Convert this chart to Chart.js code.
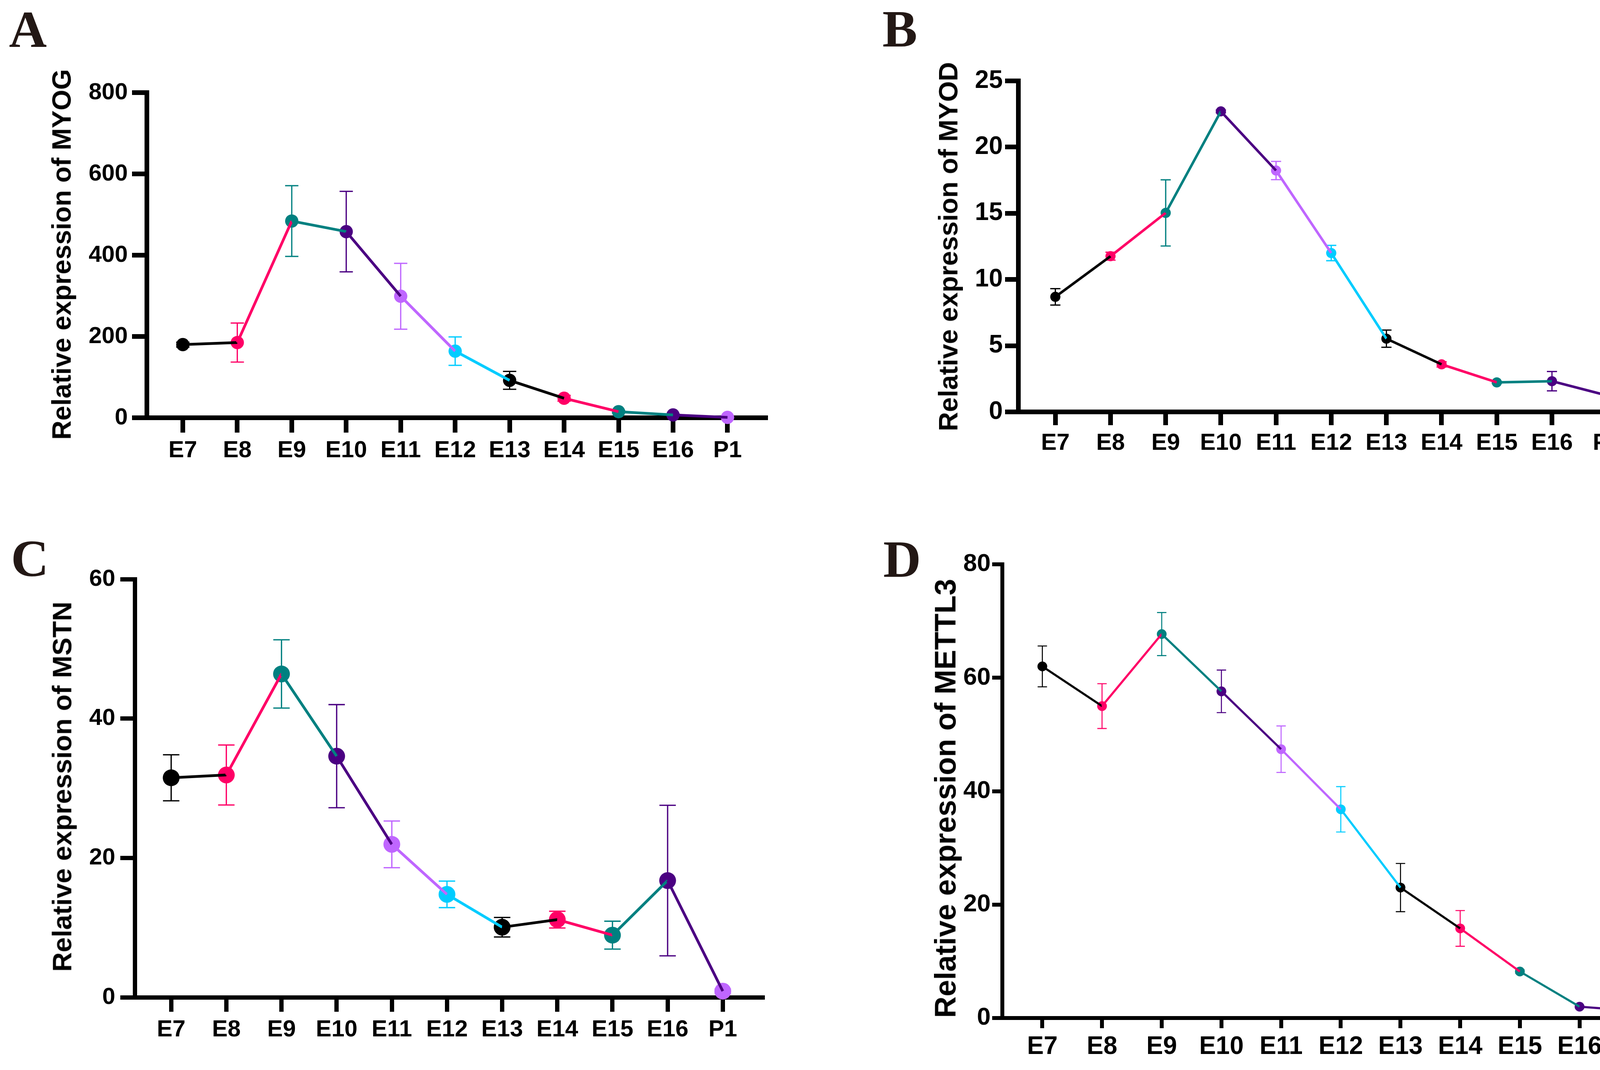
<!DOCTYPE html>
<html>
<head>
<meta charset="utf-8">
<script src="https://cdn.jsdelivr.net/npm/chart.js@4.4.1/dist/chart.umd.min.js"></script>
<style>
html, body { margin: 0; padding: 0; background: #fff; }
#page { position: relative; width: 4329px; height: 2738px; overflow: hidden; background: #fff; }
canvas { position: absolute; }
.tag { position: absolute; font-family: 'Liberation Serif', 'Times New Roman', serif; font-weight: bold;
       font-size: 134px; line-height: 1; color: #231815; }
.ytitle { position: absolute; font-family: 'Liberation Sans', Arial, sans-serif; font-weight: bold;
          line-height: 1; color: #000; white-space: nowrap; transform: translate(-50%, -50%) rotate(-90deg); }
</style>
</head>
<body>
<div id="page"></div>
<script>
// stages on the x axis
var categories = ['E7', 'E8', 'E9', 'E10', 'E11', 'E12', 'E13', 'E14', 'E15', 'E16', 'P1'];

// A - MYOG
var myog = [180, 185, 484, 458, 299, 164, 92, 48, 15, 7, 1];
var myogSd = [6, 48, 87, 99, 81, 35, 22, 7, 3, 2, 1];
var myogTicks = [0, 200, 400, 600, 800];

// B - MYOD
var myod = [8.69, 11.76, 15.03, 22.7, 18.23, 12.0, 5.53, 3.59, 2.23, 2.32, 1.24];
var myodSd = [0.62, 0.3, 2.5, 0.1, 0.69, 0.58, 0.65, 0.2, 0.08, 0.73, 0.62];
var myodTicks = [0, 5, 10, 15, 20, 25];

// C - MSTN
var mstn = [31.5, 31.9, 46.4, 34.6, 21.95, 14.77, 10.06, 11.15, 8.92, 16.75, 0.89];
var mstnSd = [3.3, 4.3, 4.9, 7.4, 3.35, 1.9, 1.4, 1.2, 2.0, 10.8, 0.3];
var mstnTicks = [0, 20, 40, 60];

// D - METTL3
var mettl3 = [62.0, 55.0, 67.7, 57.6, 47.4, 36.8, 23.0, 15.8, 8.2, 2.0, 1.2];
var mettl3Sd = [3.6, 3.95, 3.8, 3.75, 4.1, 4.0, 4.25, 3.15, 0.3, 0.2, 0.2];
var mettl3Ticks = [0, 20, 40, 60, 80];

// one colour per stage, the segment after a point takes that point's colour
var pointColors = ['#000000', '#FF0066', '#008080', '#4B0082', '#BF66FF', '#00CCFF',
                   '#000000', '#FF0066', '#008080', '#4B0082', '#BF66FF'];

var sans = "'Liberation Sans', Arial, sans-serif";

// box = canvas [left, top, w, h], area = plot area [left, top, right, bottom] in page px
var panels = [
  { tag: 'A', tagPos: [23, 8], title: 'Relative expression of MYOG', titleSize: 68, titlePos: [157, 651],
    values: myog, sd: myogSd, ticks: myogTicks,
    box: [0, 0, 2164, 1300], area: [376, 237, 1960, 1069], xmin: -0.66, xmax: 10.70,
    r: 17, lw: 7, ebw: 3.2, cap: 17, aw: 12, tl: 38, yfs: 60, xfs: 60, ypad: 11, xpad: 10 },
  { tag: 'B', tagPos: [2259, 7], title: 'Relative expression of MYOD', titleSize: 68, titlePos: [2427, 631],
    values: myod, sd: myodSd, ticks: myodTicks,
    box: [2164, 0, 2165, 1300], area: [2607, 207, 4216, 1054], xmin: -0.67, xmax: 10.72,
    r: 13, lw: 6.5, ebw: 3.2, cap: 13, aw: 12, tl: 34, yfs: 64, xfs: 60, ypad: 6, xpad: 10 },
  { tag: 'C', tagPos: [28, 1362], title: 'Relative expression of MSTN', titleSize: 69, titlePos: [159, 2013],
    values: mstn, sd: mstnSd, ticks: mstnTicks,
    box: [0, 1300, 2164, 1438], area: [345, 1482, 1952, 2552], xmin: -0.66, xmax: 10.72,
    r: 21.5, lw: 7, ebw: 3.3, cap: 21, aw: 11, tl: 37, yfs: 60, xfs: 60, ypad: 13, xpad: 10 },
  { tag: 'D', tagPos: [2261, 1364], title: 'Relative expression of METTL3', titleSize: 76, titlePos: [2420, 2043],
    values: mettl3, sd: mettl3Sd, ticks: mettl3Ticks,
    box: [2164, 1300, 2165, 1438], area: [2566, 1444, 4305, 2605], xmin: -0.67, xmax: 10.71,
    r: 12.5, lw: 5.5, ebw: 2.6, cap: 12, aw: 10, tl: 26, yfs: 63, xfs: 64, ypad: 4, xpad: 10 }
];

function errorBars(p) {
  return {
    id: 'errorBars' + p.tag,
    beforeDatasetsDraw: function(chart) {
      var ctx = chart.ctx, x = chart.scales.x, y = chart.scales.y;
      ctx.save();
      ctx.lineWidth = p.ebw;
      p.values.forEach(function(v, i) {
        var px = x.getPixelForValue(i);
        var top = y.getPixelForValue(v + p.sd[i]);
        var bot = y.getPixelForValue(v - p.sd[i]);
        ctx.strokeStyle = pointColors[i];
        ctx.beginPath();
        ctx.moveTo(px, top); ctx.lineTo(px, bot);
        ctx.moveTo(px - p.cap, top); ctx.lineTo(px + p.cap, top);
        ctx.moveTo(px - p.cap, bot); ctx.lineTo(px + p.cap, bot);
        ctx.stroke();
      });
      ctx.restore();
    }
  };
}

function axisGrid(p) {
  return { drawOnChartArea: false, drawTicks: true, tickLength: p.tl, tickWidth: p.aw,
           tickColor: '#000', color: '#000', lineWidth: p.aw };
}

function makePanel(p) {
  var page = document.getElementById('page');

  var tag = document.createElement('div');
  tag.className = 'tag';
  tag.textContent = p.tag;
  tag.style.left = p.tagPos[0] + 'px';
  tag.style.top = p.tagPos[1] + 'px';
  page.appendChild(tag);

  var cv = document.createElement('canvas');
  cv.width = p.box[2]; cv.height = p.box[3];
  cv.style.left = p.box[0] + 'px'; cv.style.top = p.box[1] + 'px';
  cv.style.width = p.box[2] + 'px'; cv.style.height = p.box[3] + 'px';
  page.appendChild(cv);

  var title = document.createElement('div');
  title.className = 'ytitle';
  title.textContent = p.title;
  title.style.fontSize = p.titleSize + 'px';
  title.style.left = p.titlePos[0] + 'px';
  title.style.top = p.titlePos[1] + 'px';
  page.appendChild(title);

  var pts = p.values.map(function(v, i) { return { x: i, y: v }; });

  new Chart(cv.getContext('2d'), {
    type: 'line',
    data: {
      datasets: [
        { data: pts, showLine: false, pointRadius: p.r, pointBackgroundColor: pointColors,
          pointBorderWidth: 0, order: 1, clip: false },
        { data: pts, pointRadius: 0, borderWidth: p.lw, borderColor: '#000', tension: 0,
          borderCapStyle: 'butt', order: 0, clip: false,
          segment: { borderColor: function(c) { return pointColors[c.p0DataIndex]; } } }
      ]
    },
    options: {
      responsive: false,
      animation: false,
      devicePixelRatio: 1,
      events: [],
      layout: { padding: { left: 0, bottom: 0, top: p.area[1] - p.box[1],
                           right: p.box[0] + p.box[2] - p.area[2] } },
      plugins: { legend: { display: false }, tooltip: { enabled: false } },
      scales: {
        x: {
          type: 'linear', min: p.xmin, max: p.xmax,
          afterBuildTicks: function(s) { s.ticks = categories.map(function(c, i) { return { value: i }; }); },
          afterFit: function(s) {
            s.height = p.box[1] + p.box[3] - p.area[3];
            s.paddingLeft = 0; s.paddingRight = 0;
          },
          ticks: { callback: function(v) { return categories[v]; }, autoSkip: false,
                   maxRotation: 0, minRotation: 0, padding: p.xpad, color: '#000',
                   font: { family: sans, size: p.xfs, weight: 'bold' } },
          grid: axisGrid(p),
          border: { display: true, width: p.aw, color: '#000' }
        },
        y: {
          type: 'linear', min: p.ticks[0], max: p.ticks[p.ticks.length - 1],
          afterBuildTicks: function(s) { s.ticks = p.ticks.map(function(v) { return { value: v }; }); },
          afterFit: function(s) {
            s.width = p.area[0] - p.box[0];
            s.paddingTop = 0; s.paddingBottom = 0;
          },
          ticks: { padding: p.ypad, color: '#000', font: { family: sans, size: p.yfs, weight: 'bold' } },
          grid: axisGrid(p),
          border: { display: true, width: p.aw, color: '#000' }
        }
      }
    },
    plugins: [errorBars(p)]
  });
}

panels.forEach(makePanel);
</script>
</body>
</html>
